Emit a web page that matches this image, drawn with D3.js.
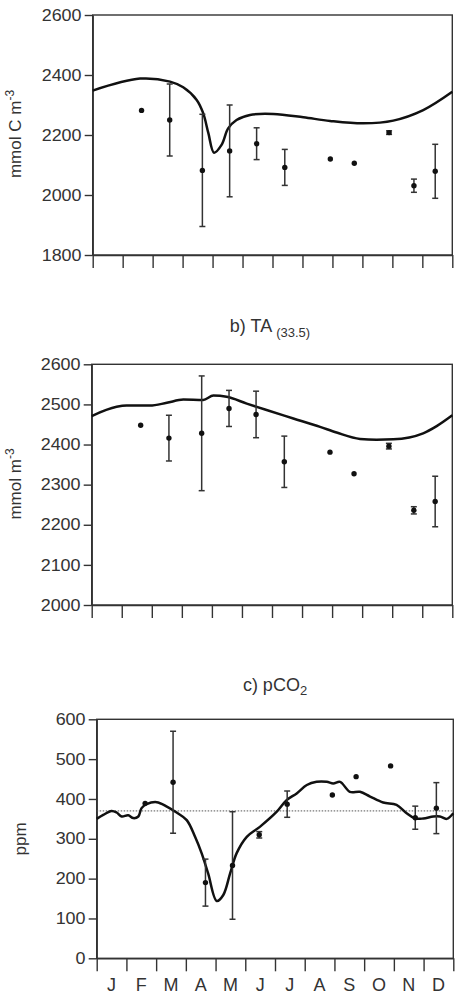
<!DOCTYPE html>
<html>
<head>
<meta charset="utf-8">
<script src="https://cdn.jsdelivr.net/npm/d3@7"></script>
<style>
  body { margin: 0; background: #fff; }
  svg { display: block; }
  text { font-family: "Liberation Sans", Arial, sans-serif; fill: #333; }
</style>
</head>
<body>
<svg id="chart" width="461" height="996"></svg>
<script>
// sampling dates (month units, 0 = 1 Jan, 12 = 31 Dec)
const months = ['J', 'F', 'M', 'A', 'M', 'J', 'J', 'A', 'S', 'O', 'N', 'D'];
const sampleMonth = [1.63, 2.57, 3.66, 4.57, 5.47, 6.41, 7.93, 8.73, 9.89, 10.72, 11.43];

// a) DIC
const dicTicks = [1800, 2000, 2200, 2400, 2600];
const dicObs = [2282, 2250, 2082, 2147, 2171, 2092, 2120, 2106, 2208, 2031, 2079];
const dicErr = [0, 120, 187, 153, 53, 60, 0, 0, 6, 22, 90];
const dicModelMonth = [0, 1.58, 2.58, 3.02, 3.47, 3.69, 3.86, 4.05, 4.30, 4.52, 4.80, 5.25, 6.03, 7.03, 7.92, 9.03, 10.03, 11.03, 12];
const dicModel = [2348, 2388, 2378, 2359, 2317, 2272, 2206, 2141, 2167, 2222, 2250, 2267, 2270, 2259, 2247, 2239, 2248, 2283, 2344];

// b) TA (33.5)
const taTicks = [2000, 2100, 2200, 2300, 2400, 2500, 2600];
const taObs = [2448, 2416, 2428, 2490, 2475, 2357, 2381, 2327, 2396, 2236, 2258];
const taErr = [0, 57, 143, 45, 58, 64, 0, 0, 7, 9, 63];
const taModelMonth = [0, 0.83, 1.16, 1.94, 2.50, 3.05, 3.71, 4.05, 4.49, 5.16, 5.82, 6.71, 7.60, 8.15, 8.93, 9.48, 10.04, 11.03, 11.48, 12];
const taModel = [2471, 2494, 2497, 2497, 2504, 2512, 2511, 2522, 2519, 2502, 2486, 2465, 2444, 2430, 2414, 2412, 2413, 2428, 2446, 2473];

// c) pCO2
const pco2Ticks = [0, 100, 200, 300, 400, 500, 600];
const pco2Obs = [389, 442, 190, 233, 310, 387, 410, 456, 483, 353, 377];
const pco2Err = [0, 128, 59, 135, 8, 33, 0, 0, 0, 29, 64];
const pco2Atm = 370;
const pco2ModelMonth = [0, 0.22, 0.50, 0.67, 0.84, 1.06, 1.23, 1.40, 1.51, 1.68, 2.02, 2.36, 2.69, 3.03, 3.31, 3.53, 3.75, 4.04, 4.26, 4.49, 4.71, 5.05, 5.49, 6.06, 6.39, 6.73, 7.07, 7.40, 7.74, 7.96, 8.19, 8.52, 8.86, 9.20, 9.64, 10.09, 10.43, 10.71, 10.99, 11.33, 11.55, 11.78, 12];
const pco2Model = [350, 360, 370, 366, 356, 359, 352, 356, 377, 387, 392, 381, 366, 347, 305, 264, 213, 144, 159, 213, 264, 305, 330, 368, 397, 414, 435, 443, 443, 439, 443, 418, 418, 406, 391, 385, 364, 351, 351, 356, 356, 350, 364];

const svg = d3.select('#chart');
const axisColor = '#333';

function drawPanel(p) {
  const x = d3.scaleLinear().domain([0, 12]).range([p.left, p.right]);
  const y = d3.scaleLinear().domain(d3.extent(p.ticks)).range([p.bottom, p.top]);
  const g = svg.append('g');

  // frame
  g.append('rect')
    .attr('x', p.left).attr('y', p.top)
    .attr('width', p.right - p.left).attr('height', p.bottom - p.top)
    .attr('fill', 'none').attr('stroke', axisColor).attr('stroke-width', 1.4);

  const yAxis = g.append('g')
    .attr('transform', `translate(${p.left},0)`)
    .call(d3.axisLeft(y).tickValues(p.ticks).tickFormat(d3.format('d'))
      .tickSize(8).tickPadding(2).tickSizeOuter(0));
  yAxis.selectAll('text')
    .attr('font-size', 16)
    .attr('transform', 'scale(1.12,1)');

  const xAxis = g.append('g')
    .attr('transform', `translate(0,${p.bottom})`)
    .call(d3.axisBottom(x).tickValues(d3.range(13)).tickSize(13).tickSizeOuter(0).tickFormat(''));

  [yAxis, xAxis].forEach(a => {
    a.selectAll('path, line').attr('stroke', axisColor).attr('stroke-width', 1.4);
    a.selectAll('text').attr('fill', '#333').attr('font-family', '"Liberation Sans", Arial, sans-serif');
  });

  if (p.monthLabels) {
    g.selectAll('.month')
      .data(months)
      .enter()
      .append('text')
      .attr('class', 'month')
      .attr('x', (d, i) => x(i + 0.5))
      .attr('y', p.bottom + 33)
      .attr('text-anchor', 'middle')
      .attr('font-size', 18)
      .text(d => d);
  }

  if (p.ref !== undefined) {
    g.append('line')
      .attr('x1', p.left).attr('x2', p.right)
      .attr('y1', y(p.ref)).attr('y2', y(p.ref))
      .attr('stroke', '#555').attr('stroke-width', 1)
      .attr('stroke-dasharray', '1.5,1.5');
  }

  // model curve
  const line = d3.line()
    .x(d => x(d[0]))
    .y(d => y(d[1]))
    .curve(p.curve);
  g.append('path')
    .datum(d3.zip(p.modelX, p.model))
    .attr('d', line)
    .attr('fill', 'none')
    .attr('stroke', '#111')
    .attr('stroke-width', 2.5)
    .attr('stroke-linejoin', 'round');

  // observations with error bars
  const obs = d3.zip(sampleMonth, p.obs, p.err);
  const bars = g.selectAll('.bar')
    .data(obs.filter(d => d[2] > 0))
    .enter()
    .append('g')
    .attr('class', 'bar')
    .attr('stroke', '#333')
    .attr('stroke-width', 1.5);
  bars.append('line')
    .attr('x1', d => x(d[0])).attr('x2', d => x(d[0]))
    .attr('y1', d => y(d[1] - d[2])).attr('y2', d => y(d[1] + d[2]));
  [-1, 1].forEach(s => {
    bars.append('line')
      .attr('x1', d => x(d[0]) - 3).attr('x2', d => x(d[0]) + 3)
      .attr('y1', d => y(d[1] + s * d[2])).attr('y2', d => y(d[1] + s * d[2]));
  });

  g.selectAll('.pt')
    .data(obs)
    .enter()
    .append('circle')
    .attr('class', 'pt')
    .attr('cx', d => x(d[0]))
    .attr('cy', d => y(d[1]))
    .attr('r', 2.7)
    .attr('fill', '#111');

  // y label
  const lab = g.append('text')
    .attr('transform', `translate(${p.labelX},${p.labelY}) rotate(-90)`)
    .attr('text-anchor', 'middle')
    .attr('font-size', 17);
  lab.append('tspan').text(p.ylabel);
  if (p.ysup) {
    lab.append('tspan').attr('dy', -7).attr('font-size', 12).text(p.ysup);
  }

  if (p.title) {
    const t = g.append('text')
      .attr('x', p.titleX).attr('y', p.titleY)
      .attr('text-anchor', 'middle')
      .attr('font-size', 18);
    t.append('tspan').text(p.title);
    t.append('tspan').attr('dy', p.subDy).attr('font-size', p.subSize).text(p.titleSub);
  }
}

drawPanel({
  left: 92.7, right: 452.3, top: 15, bottom: 255,
  ticks: dicTicks, obs: dicObs, err: dicErr,
  modelX: dicModelMonth, model: dicModel, curve: d3.curveCatmullRom.alpha(0.5),
  ylabel: 'mmol C m', ysup: '-3', labelX: 21, labelY: 134
});

drawPanel({
  left: 91.7, right: 452.3, top: 364.3, bottom: 605,
  ticks: taTicks, obs: taObs, err: taErr,
  modelX: taModelMonth, model: taModel, curve: d3.curveMonotoneX,
  ylabel: 'mmol m', ysup: '-3', labelX: 21, labelY: 484,
  title: 'b) TA ', titleSub: '(33.5)', titleX: 270, titleY: 332, subDy: 5, subSize: 13
});

drawPanel({
  left: 96.7, right: 453.3, top: 719.3, bottom: 958.3,
  ticks: pco2Ticks, obs: pco2Obs, err: pco2Err, ref: pco2Atm,
  modelX: pco2ModelMonth, model: pco2Model, curve: d3.curveCatmullRom.alpha(0.5),
  ylabel: 'ppm', labelX: 26, labelY: 839, monthLabels: true,
  title: 'c) pCO', titleSub: '2', titleX: 275, titleY: 691, subDy: 4, subSize: 13
});
</script>
</body>
</html>
